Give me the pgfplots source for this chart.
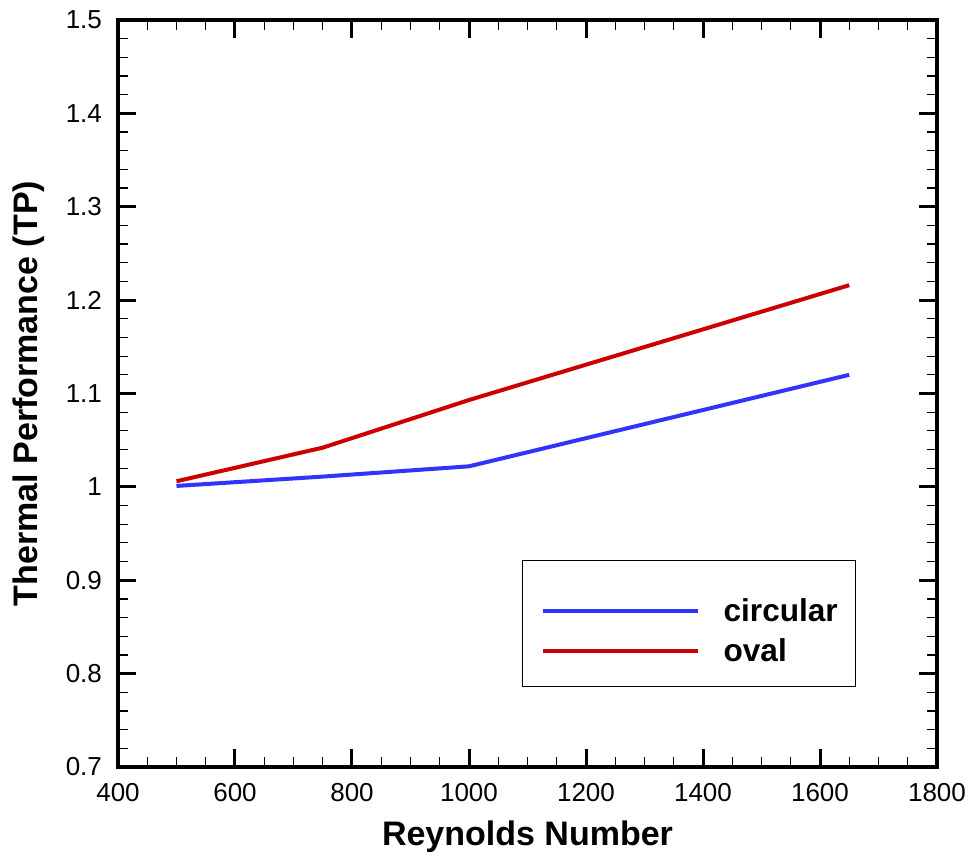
\documentclass[border=0pt]{standalone}
\usepackage{fontspec}
\setmainfont{Liberation Sans}
\usepackage{pgfplots}
\pgfplotsset{compat=1.18}
\definecolor{circblue}{RGB}{51,51,255}
\definecolor{ovalred}{RGB}{204,0,0}
\begin{document}
\begin{tikzpicture}
\begin{axis}[
    scale only axis,
    width=409.5pt,
    height=373.5pt,
    xmin=400, xmax=1800,
    ymin=0.7, ymax=1.5,
    xtick={400,600,...,1800},
    ytick={0.7,0.8,...,1.5},
    minor x tick num=3,
    minor y tick num=4,
    tick align=inside,
    xtick pos=both,
    ytick pos=both,
    major tick length=9pt,
    minor tick length=5pt,
    every major tick/.append style={line width=1.5pt, black},
    every minor tick/.append style={line width=0.6pt, black},
    axis line style={line width=1.75pt},
    /pgf/number format/assume math mode=true,
    /pgf/number format/1000 sep={},
    ticklabel style={font=\fontsize{13}{15}\selectfont},
    xticklabel style={yshift=-4.5pt},
    yticklabel style={xshift=-4.5pt},
    xlabel={Reynolds Number},
    ylabel={Thermal Performance (TP)},
    every axis x label/.style={at={(axis description cs:0.5,-0.0937)}, anchor=center,
        font=\fontsize{17}{20}\selectfont\bfseries},
    every axis y label/.style={at={(axis description cs:-0.1087,0.5)}, anchor=center, rotate=90,
        font=\fontsize{17}{20}\selectfont\bfseries},
    legend style={at={(0.4933,0.2771)}, anchor=north west, draw=black, line width=0.6pt,
        inner xsep=9pt, inner ysep=12.5pt, row sep=2pt,
        nodes={inner sep=0pt, text height=18pt, text depth=0pt},
        font=\fontsize{15.8}{18}\selectfont\bfseries,
        /tikz/every odd column/.append style={column sep=12pt}},
    legend cell align=left,
    legend image code/.code={\draw[#1] (0pt,-3.75pt) -- (77.5pt,-3.75pt);},
]
\addplot[circblue, line width=2pt] coordinates {
    (500,1.001) (750,1.011) (1000,1.022) (1650,1.120)
};
\addlegendentry{circular}
\addplot[ovalred, line width=2pt] coordinates {
    (500,1.006) (750,1.042) (1000,1.093) (1650,1.216)
};
\addlegendentry{oval}
\end{axis}
\path ([shift={(-59pt,-47pt)}]current axis.south west) rectangle ([shift={(19pt,10pt)}]current axis.north east);
\end{tikzpicture}
\end{document}
